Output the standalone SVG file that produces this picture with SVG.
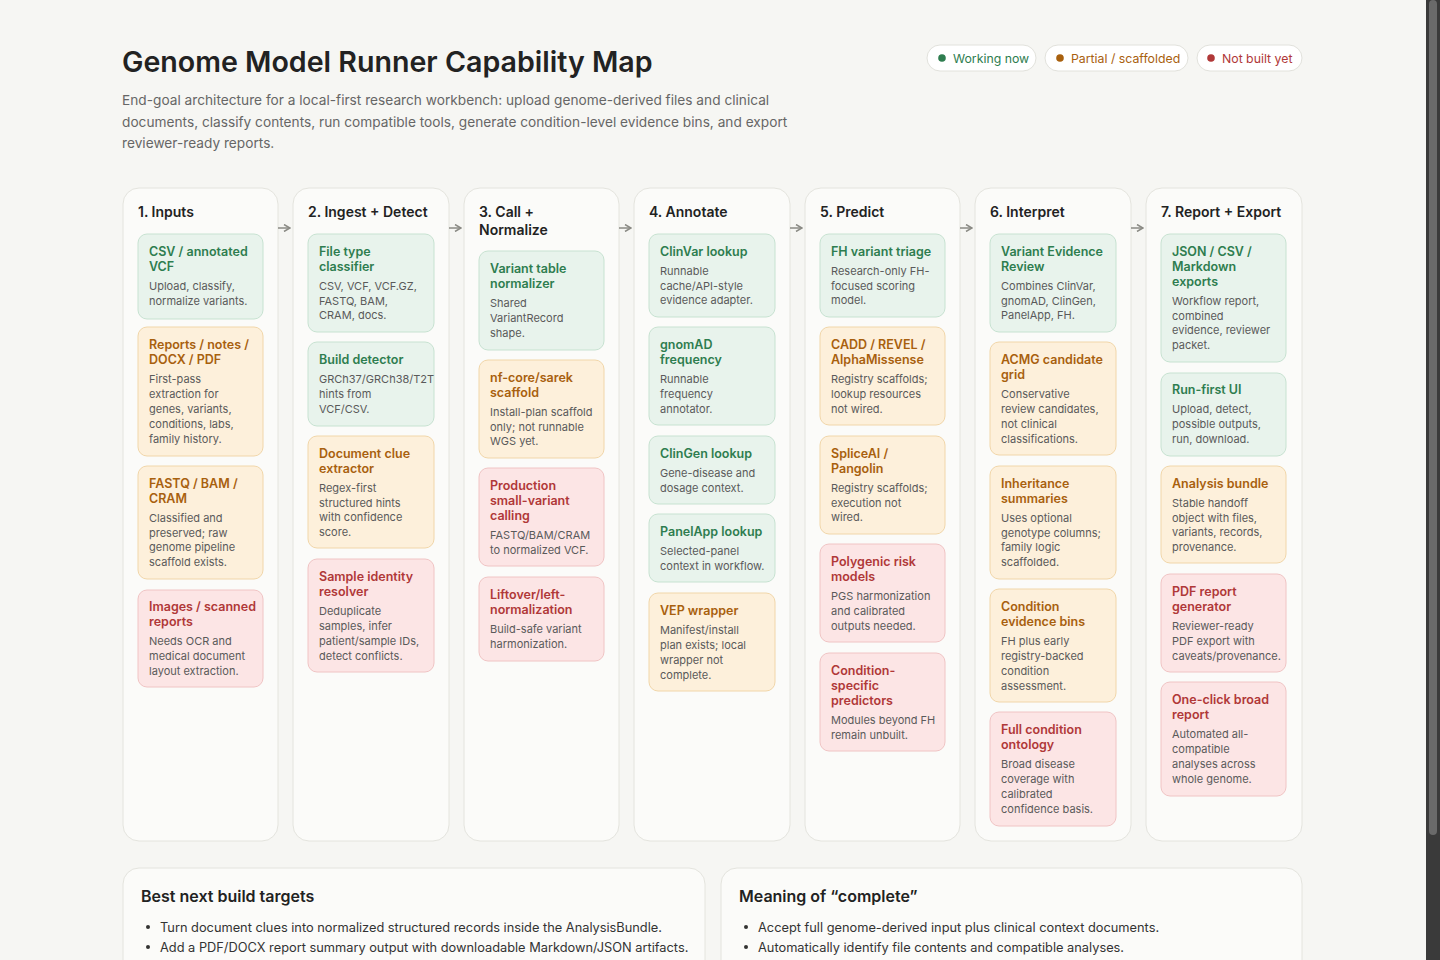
<svg xmlns="http://www.w3.org/2000/svg" width="1440" height="960" viewBox="0 0 1440 960">
<defs>
<style>
text{font-family:Inter,"Liberation Sans",sans-serif}
.title{font-size:28.6px;font-weight:600;fill:#222}
.sub{font-size:13.7px;fill:#666}
.pill{fill:#fff;stroke:#e2e2dc}
.col{fill:#fbfbf9;stroke:#e4e4de}
.ch{font-size:14px;font-weight:600;fill:#222}
.g{fill:#e8f3ec;stroke:#c7e2d1}
.o{fill:#fdf0db;stroke:#f1d6a9}
.r{fill:#fce5e5;stroke:#f0c4c4}
.tg{font-size:12.5px;font-weight:600;fill:#2e7d4f}
.to{font-size:12.5px;font-weight:600;fill:#a8600e}
.tr{font-size:12.5px;font-weight:600;fill:#b03838}
.b{font-size:11px;fill:#5a5a5a}
.arr{stroke:#8a8a84;stroke-width:1.5;fill:none}
.panel{fill:#fbfbf9;stroke:#e4e4de}
.ph{font-size:16px;font-weight:600;fill:#222}
.li{font-size:12.8px;fill:#333}
</style>
<marker id="ah" markerWidth="8" markerHeight="8" refX="7" refY="4" orient="auto" markerUnits="userSpaceOnUse"><path d="M1,0.5 L7,4 L1,7.5" stroke="#8a8a84" stroke-width="1.5" fill="none"/></marker>
</defs>
<rect width="1440" height="960" fill="#f6f6f3"/>
<rect x="1426" y="0" width="14" height="960" fill="#3a3a3a"/>
<rect x="1429" y="0" width="8" height="835" rx="4" fill="#6a6a6a"/>

<text x="122" y="72" class="title">Genome Model Runner Capability Map</text>
<text class="sub"><tspan x="122" y="105">End-goal architecture for a local-first research workbench: upload genome-derived files and clinical</tspan><tspan x="122" y="127">documents, classify contents, run compatible tools, generate condition-level evidence bins, and export</tspan><tspan x="122" y="148">reviewer-ready reports.</tspan></text>

<g id="legend">
<rect x="927" y="45" width="109" height="26" rx="13" class="pill"/><circle cx="942" cy="58" r="3.8" fill="#2e7d4f"/><text x="953" y="63" font-size="12.3" fill="#2e7d4f">Working now</text>
<rect x="1045" y="45" width="143" height="26" rx="13" class="pill"/><circle cx="1060" cy="58" r="3.8" fill="#a8600e"/><text x="1071" y="63" font-size="12.3" fill="#a8600e">Partial / scaffolded</text>
<rect x="1197" y="45" width="105" height="26" rx="13" class="pill"/><circle cx="1211" cy="58" r="3.8" fill="#b03838"/><text x="1222" y="63" font-size="12.3" fill="#b03838">Not built yet</text>
</g>

<g id="columns">
<rect x="123" y="188" width="155" height="653" rx="16" class="col"/><text x="138" y="217" class="ch">1. Inputs</text>
<rect x="293" y="188" width="156" height="653" rx="16" class="col"/><text x="308" y="217" class="ch">2. Ingest + Detect</text>
<rect x="464" y="188" width="155" height="653" rx="16" class="col"/><text class="ch"><tspan x="479" y="217">3. Call +</tspan><tspan x="479" y="235">Normalize</tspan></text>
<rect x="634" y="188" width="156" height="653" rx="16" class="col"/><text x="649" y="217" class="ch">4. Annotate</text>
<rect x="805" y="188" width="155" height="653" rx="16" class="col"/><text x="820" y="217" class="ch">5. Predict</text>
<rect x="975" y="188" width="156" height="653" rx="16" class="col"/><text x="990" y="217" class="ch">6. Interpret</text>
<rect x="1146" y="188" width="156" height="653" rx="16" class="col"/><text x="1161" y="217" class="ch">7. Report + Export</text>
</g>

<g id="connectors">
<path d="M278 228 H290" class="arr" marker-end="url(#ah)"/>
<path d="M449 228 H461" class="arr" marker-end="url(#ah)"/>
<path d="M619 228 H631" class="arr" marker-end="url(#ah)"/>
<path d="M790 228 H802" class="arr" marker-end="url(#ah)"/>
<path d="M960 228 H972" class="arr" marker-end="url(#ah)"/>
<path d="M1131 228 H1143" class="arr" marker-end="url(#ah)"/>
</g>

<!-- Column 1 -->
<g id="n-csv"><rect x="138" y="234" width="125" height="85" rx="9" class="g"/><text class="tg"><tspan x="149" y="256">CSV / annotated</tspan><tspan x="149" y="271">VCF</tspan></text><text class="b"><tspan x="149" y="290">Upload, classify,</tspan><tspan x="149" y="305">normalize variants.</tspan></text></g>
<g id="n-reports"><rect x="138" y="327" width="125" height="129" rx="9" class="o"/><text class="to"><tspan x="149" y="349">Reports / notes /</tspan><tspan x="149" y="364">DOCX / PDF</tspan></text><text class="b"><tspan x="149" y="383">First-pass</tspan><tspan x="149" y="398">extraction for</tspan><tspan x="149" y="413">genes, variants,</tspan><tspan x="149" y="428">conditions, labs,</tspan><tspan x="149" y="443">family history.</tspan></text></g>
<g id="n-fastq"><rect x="138" y="466" width="125" height="113" rx="9" class="o"/><text class="to"><tspan x="149" y="488">FASTQ / BAM /</tspan><tspan x="149" y="503">CRAM</tspan></text><text class="b"><tspan x="149" y="522">Classified and</tspan><tspan x="149" y="537">preserved; raw</tspan><tspan x="149" y="551">genome pipeline</tspan><tspan x="149" y="566">scaffold exists.</tspan></text></g>
<g id="n-images"><rect x="138" y="590" width="125" height="97" rx="9" class="r"/><text class="tr"><tspan x="149" y="611">Images / scanned</tspan><tspan x="149" y="626">reports</tspan></text><text class="b"><tspan x="149" y="645">Needs OCR and</tspan><tspan x="149" y="660">medical document</tspan><tspan x="149" y="675">layout extraction.</tspan></text></g>

<!-- Column 2 -->
<g id="n-filetype"><rect x="308" y="234" width="126" height="98" rx="9" class="g"/><text class="tg"><tspan x="319" y="256">File type</tspan><tspan x="319" y="271">classifier</tspan></text><text class="b"><tspan x="319" y="290">CSV, VCF, VCF.GZ,</tspan><tspan x="319" y="305">FASTQ, BAM,</tspan><tspan x="319" y="319">CRAM, docs.</tspan></text></g>
<g id="n-build"><rect x="308" y="342" width="126" height="84" rx="9" class="g"/><text class="tg"><tspan x="319" y="364">Build detector</tspan></text><text class="b"><tspan x="319" y="383">GRCh37/GRCh38/T2T</tspan><tspan x="319" y="398">hints from</tspan><tspan x="319" y="413">VCF/CSV.</tspan></text></g>
<g id="n-docclue"><rect x="308" y="436" width="126" height="112" rx="9" class="o"/><text class="to"><tspan x="319" y="458">Document clue</tspan><tspan x="319" y="473">extractor</tspan></text><text class="b"><tspan x="319" y="492">Regex-first</tspan><tspan x="319" y="507">structured hints</tspan><tspan x="319" y="521">with confidence</tspan><tspan x="319" y="536">score.</tspan></text></g>
<g id="n-sample"><rect x="308" y="559" width="126" height="113" rx="9" class="r"/><text class="tr"><tspan x="319" y="581">Sample identity</tspan><tspan x="319" y="596">resolver</tspan></text><text class="b"><tspan x="319" y="615">Deduplicate</tspan><tspan x="319" y="630">samples, infer</tspan><tspan x="319" y="645">patient/sample IDs,</tspan><tspan x="319" y="660">detect conflicts.</tspan></text></g>

<!-- Column 3 -->
<g id="n-vtn"><rect x="479" y="251" width="125" height="99" rx="9" class="g"/><text class="tg"><tspan x="490" y="273">Variant table</tspan><tspan x="490" y="288">normalizer</tspan></text><text class="b"><tspan x="490" y="307">Shared</tspan><tspan x="490" y="322">VariantRecord</tspan><tspan x="490" y="337">shape.</tspan></text></g>
<g id="n-sarek"><rect x="479" y="360" width="125" height="98" rx="9" class="o"/><text class="to"><tspan x="490" y="382">nf-core/sarek</tspan><tspan x="490" y="397">scaffold</tspan></text><text class="b"><tspan x="490" y="416">Install-plan scaffold</tspan><tspan x="490" y="431">only; not runnable</tspan><tspan x="490" y="445">WGS yet.</tspan></text></g>
<g id="n-prod"><rect x="479" y="468" width="125" height="98" rx="9" class="r"/><text class="tr"><tspan x="490" y="490">Production</tspan><tspan x="490" y="505">small-variant</tspan><tspan x="490" y="520">calling</tspan></text><text class="b"><tspan x="490" y="539">FASTQ/BAM/CRAM</tspan><tspan x="490" y="554">to normalized VCF.</tspan></text></g>
<g id="n-liftover"><rect x="479" y="577" width="125" height="84" rx="9" class="r"/><text class="tr"><tspan x="490" y="599">Liftover/left-</tspan><tspan x="490" y="614">normalization</tspan></text><text class="b"><tspan x="490" y="633">Build-safe variant</tspan><tspan x="490" y="648">harmonization.</tspan></text></g>

<!-- Column 4 -->
<g id="n-clinvar"><rect x="649" y="234" width="126" height="83" rx="9" class="g"/><text class="tg"><tspan x="660" y="256">ClinVar lookup</tspan></text><text class="b"><tspan x="660" y="275">Runnable</tspan><tspan x="660" y="290">cache/API-style</tspan><tspan x="660" y="304">evidence adapter.</tspan></text></g>
<g id="n-gnomad"><rect x="649" y="327" width="126" height="98" rx="9" class="g"/><text class="tg"><tspan x="660" y="349">gnomAD</tspan><tspan x="660" y="364">frequency</tspan></text><text class="b"><tspan x="660" y="383">Runnable</tspan><tspan x="660" y="398">frequency</tspan><tspan x="660" y="413">annotator.</tspan></text></g>
<g id="n-clingen"><rect x="649" y="436" width="126" height="68" rx="9" class="g"/><text class="tg"><tspan x="660" y="458">ClinGen lookup</tspan></text><text class="b"><tspan x="660" y="477">Gene-disease and</tspan><tspan x="660" y="492">dosage context.</tspan></text></g>
<g id="n-panelapp"><rect x="649" y="514" width="126" height="68" rx="9" class="g"/><text class="tg"><tspan x="660" y="536">PanelApp lookup</tspan></text><text class="b"><tspan x="660" y="555">Selected-panel</tspan><tspan x="660" y="570">context in workflow.</tspan></text></g>
<g id="n-vep"><rect x="649" y="593" width="126" height="98" rx="9" class="o"/><text class="to"><tspan x="660" y="615">VEP wrapper</tspan></text><text class="b"><tspan x="660" y="634">Manifest/install</tspan><tspan x="660" y="649">plan exists; local</tspan><tspan x="660" y="664">wrapper not</tspan><tspan x="660" y="679">complete.</tspan></text></g>

<!-- Column 5 -->
<g id="n-fh"><rect x="820" y="234" width="125" height="83" rx="9" class="g"/><text class="tg"><tspan x="831" y="256">FH variant triage</tspan></text><text class="b"><tspan x="831" y="275">Research-only FH-</tspan><tspan x="831" y="290">focused scoring</tspan><tspan x="831" y="304">model.</tspan></text></g>
<g id="n-cadd"><rect x="820" y="327" width="125" height="98" rx="9" class="o"/><text class="to"><tspan x="831" y="349">CADD / REVEL /</tspan><tspan x="831" y="364">AlphaMissense</tspan></text><text class="b"><tspan x="831" y="383">Registry scaffolds;</tspan><tspan x="831" y="398">lookup resources</tspan><tspan x="831" y="413">not wired.</tspan></text></g>
<g id="n-splice"><rect x="820" y="436" width="125" height="98" rx="9" class="o"/><text class="to"><tspan x="831" y="458">SpliceAI /</tspan><tspan x="831" y="473">Pangolin</tspan></text><text class="b"><tspan x="831" y="492">Registry scaffolds;</tspan><tspan x="831" y="507">execution not</tspan><tspan x="831" y="521">wired.</tspan></text></g>
<g id="n-prs"><rect x="820" y="544" width="125" height="98" rx="9" class="r"/><text class="tr"><tspan x="831" y="566">Polygenic risk</tspan><tspan x="831" y="581">models</tspan></text><text class="b"><tspan x="831" y="600">PGS harmonization</tspan><tspan x="831" y="615">and calibrated</tspan><tspan x="831" y="630">outputs needed.</tspan></text></g>
<g id="n-csp"><rect x="820" y="653" width="125" height="98" rx="9" class="r"/><text class="tr"><tspan x="831" y="675">Condition-</tspan><tspan x="831" y="690">specific</tspan><tspan x="831" y="705">predictors</tspan></text><text class="b"><tspan x="831" y="724">Modules beyond FH</tspan><tspan x="831" y="739">remain unbuilt.</tspan></text></g>

<!-- Column 6 -->
<g id="n-ver"><rect x="990" y="234" width="126" height="98" rx="9" class="g"/><text class="tg"><tspan x="1001" y="256">Variant Evidence</tspan><tspan x="1001" y="271">Review</tspan></text><text class="b"><tspan x="1001" y="290">Combines ClinVar,</tspan><tspan x="1001" y="305">gnomAD, ClinGen,</tspan><tspan x="1001" y="319">PanelApp, FH.</tspan></text></g>
<g id="n-acmg"><rect x="990" y="342" width="126" height="113" rx="9" class="o"/><text class="to"><tspan x="1001" y="364">ACMG candidate</tspan><tspan x="1001" y="379">grid</tspan></text><text class="b"><tspan x="1001" y="398">Conservative</tspan><tspan x="1001" y="413">review candidates,</tspan><tspan x="1001" y="428">not clinical</tspan><tspan x="1001" y="443">classifications.</tspan></text></g>
<g id="n-inherit"><rect x="990" y="466" width="126" height="113" rx="9" class="o"/><text class="to"><tspan x="1001" y="488">Inheritance</tspan><tspan x="1001" y="503">summaries</tspan></text><text class="b"><tspan x="1001" y="522">Uses optional</tspan><tspan x="1001" y="537">genotype columns;</tspan><tspan x="1001" y="551">family logic</tspan><tspan x="1001" y="566">scaffolded.</tspan></text></g>
<g id="n-bins"><rect x="990" y="589" width="126" height="113" rx="9" class="o"/><text class="to"><tspan x="1001" y="611">Condition</tspan><tspan x="1001" y="626">evidence bins</tspan></text><text class="b"><tspan x="1001" y="645">FH plus early</tspan><tspan x="1001" y="660">registry-backed</tspan><tspan x="1001" y="675">condition</tspan><tspan x="1001" y="690">assessment.</tspan></text></g>
<g id="n-ontology"><rect x="990" y="712" width="126" height="114" rx="9" class="r"/><text class="tr"><tspan x="1001" y="734">Full condition</tspan><tspan x="1001" y="749">ontology</tspan></text><text class="b"><tspan x="1001" y="768">Broad disease</tspan><tspan x="1001" y="783">coverage with</tspan><tspan x="1001" y="798">calibrated</tspan><tspan x="1001" y="813">confidence basis.</tspan></text></g>

<!-- Column 7 -->
<g id="n-exports"><rect x="1161" y="234" width="125" height="128" rx="9" class="g"/><text class="tg"><tspan x="1172" y="256">JSON / CSV /</tspan><tspan x="1172" y="271">Markdown</tspan><tspan x="1172" y="286">exports</tspan></text><text class="b"><tspan x="1172" y="305">Workflow report,</tspan><tspan x="1172" y="320">combined</tspan><tspan x="1172" y="334">evidence, reviewer</tspan><tspan x="1172" y="349">packet.</tspan></text></g>
<g id="n-runui"><rect x="1161" y="373" width="125" height="83" rx="9" class="g"/><text class="tg"><tspan x="1172" y="394">Run-first UI</tspan></text><text class="b"><tspan x="1172" y="413">Upload, detect,</tspan><tspan x="1172" y="428">possible outputs,</tspan><tspan x="1172" y="443">run, download.</tspan></text></g>
<g id="n-bundle"><rect x="1161" y="466" width="125" height="97" rx="9" class="o"/><text class="to"><tspan x="1172" y="488">Analysis bundle</tspan></text><text class="b"><tspan x="1172" y="507">Stable handoff</tspan><tspan x="1172" y="522">object with files,</tspan><tspan x="1172" y="536">variants, records,</tspan><tspan x="1172" y="551">provenance.</tspan></text></g>
<g id="n-pdf"><rect x="1161" y="574" width="125" height="98" rx="9" class="r"/><text class="tr"><tspan x="1172" y="596">PDF report</tspan><tspan x="1172" y="611">generator</tspan></text><text class="b"><tspan x="1172" y="630">Reviewer-ready</tspan><tspan x="1172" y="645">PDF export with</tspan><tspan x="1172" y="660">caveats/provenance.</tspan></text></g>
<g id="n-oneclick"><rect x="1161" y="682" width="125" height="114" rx="9" class="r"/><text class="tr"><tspan x="1172" y="704">One-click broad</tspan><tspan x="1172" y="719">report</tspan></text><text class="b"><tspan x="1172" y="738">Automated all-</tspan><tspan x="1172" y="753">compatible</tspan><tspan x="1172" y="768">analyses across</tspan><tspan x="1172" y="783">whole genome.</tspan></text></g>

<g id="panel-targets">
<rect x="123" y="868" width="582" height="120" rx="16" class="panel"/>
<text x="141" y="902" class="ph">Best next build targets</text>
<circle cx="148" cy="927" r="2" fill="#333"/><text x="160" y="932" class="li">Turn document clues into normalized structured records inside the AnalysisBundle.</text>
<circle cx="148" cy="947" r="2" fill="#333"/><text x="160" y="952" class="li">Add a PDF/DOCX report summary output with downloadable Markdown/JSON artifacts.</text>
</g>
<g id="panel-complete">
<rect x="721" y="868" width="581" height="120" rx="16" class="panel"/>
<text x="739" y="902" class="ph">Meaning of “complete”</text>
<circle cx="746" cy="927" r="2" fill="#333"/><text x="758" y="932" class="li">Accept full genome-derived input plus clinical context documents.</text>
<circle cx="746" cy="947" r="2" fill="#333"/><text x="758" y="952" class="li">Automatically identify file contents and compatible analyses.</text>
</g>
</svg>
